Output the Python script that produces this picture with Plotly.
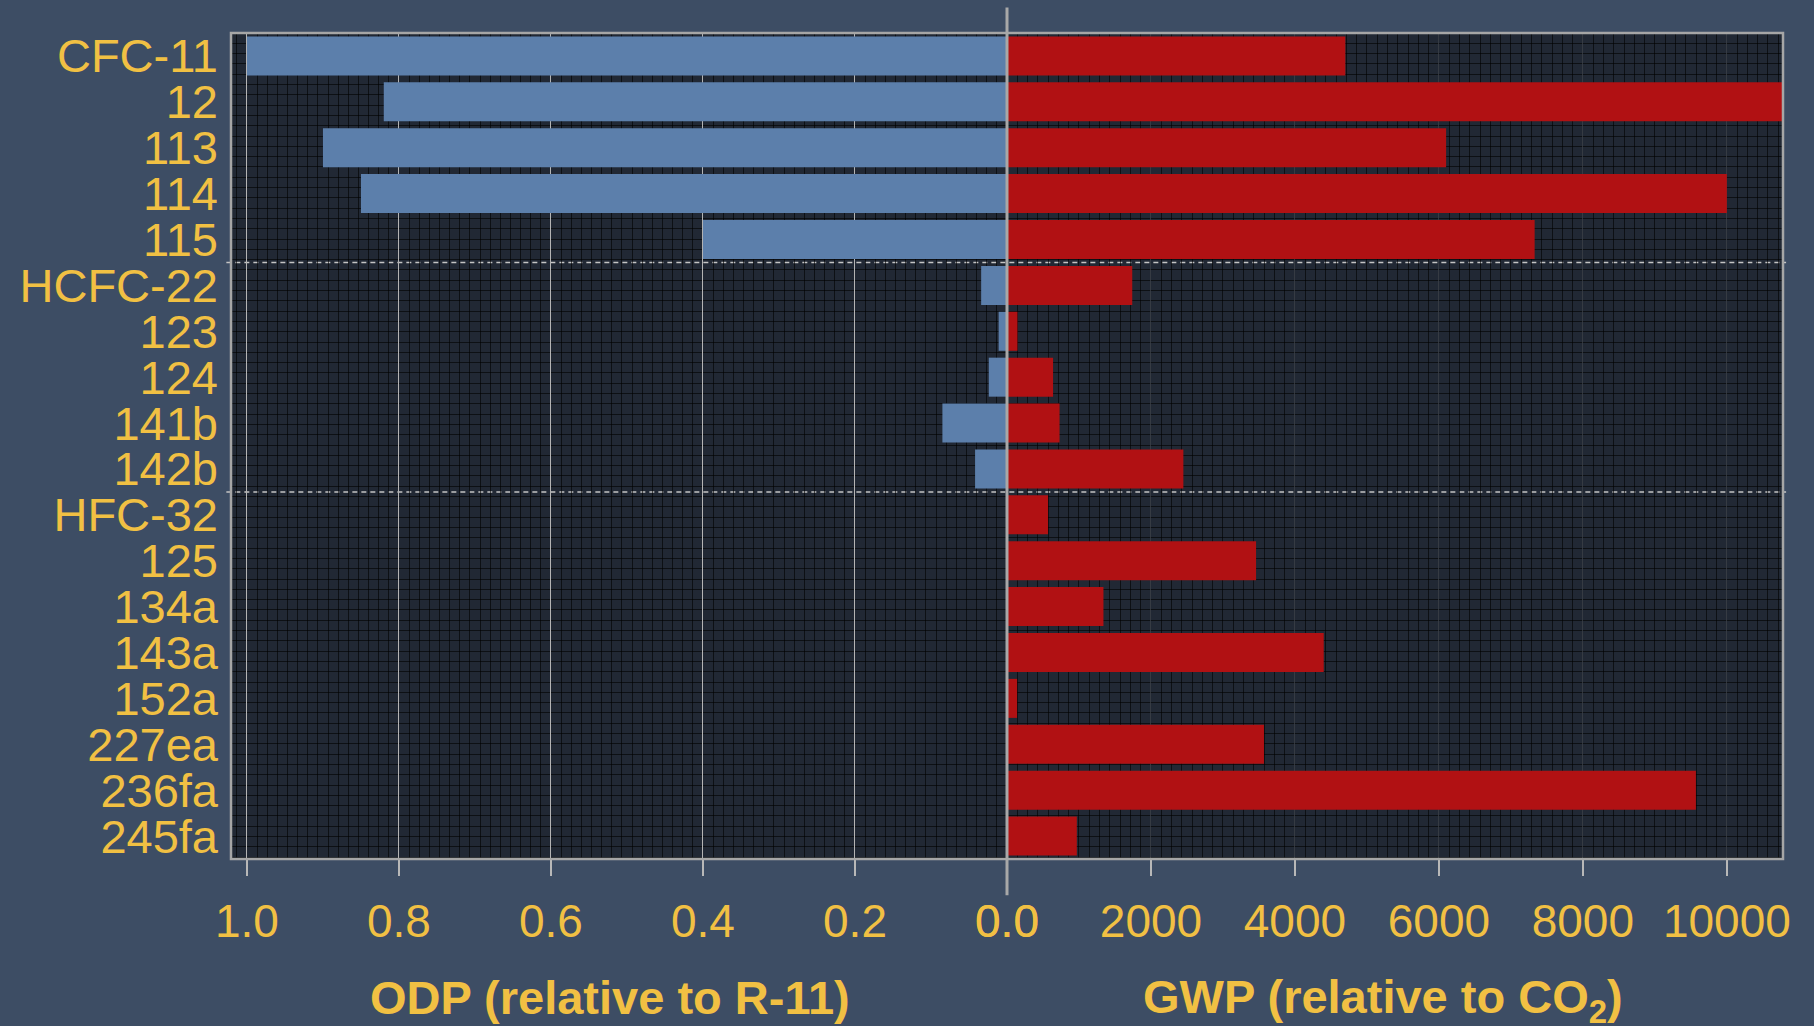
import plotly.graph_objects as go

# ---------------- data ----------------
categories = ["CFC-11", "12", "113", "114", "115",
              "HCFC-22", "123", "124", "141b", "142b",
              "HFC-32", "125", "134a", "143a", "152a", "227ea", "236fa", "245fa"]
groups = ["CFC"] * 5 + ["HCFC"] * 5 + ["HFC"] * 8
odp = [1.0, 0.82, 0.90, 0.85, 0.40,
       0.034, 0.011, 0.024, 0.085, 0.042,
       0, 0, 0, 0, 0, 0, 0, 0]
gwp = [4700, 10900, 6100, 10000, 7330,
       1740, 145, 640, 730, 2450,
       570, 3460, 1340, 4400, 140, 3570, 9570, 970]

odp_ticks = [1.0, 0.8, 0.6, 0.4, 0.2, 0.0]
odp_tick_labels = ["1.0", "0.8", "0.6", "0.4", "0.2", "0.0"]
gwp_ticks = [0, 2000, 4000, 6000, 8000, 10000]
gwp_tick_labels = ["0.0", "2000", "4000", "6000", "8000", "10000"]

ODP_MAX = 1.021
GWP_MAX = 10780

# ---------------- style ----------------
GOLD = "#f1c043"
BLUE = "#5c7fab"
RED = "#b11113"
PAPER = "#3d4d64"
PLOTBG = "#212834"
FRAME = "#a6a6a6"
TICKC = "#b8b8b8"
TEXTURE = "rgba(0,0,0,0.6)"
FONT = "Liberation Sans, Arial, sans-serif"

ypos = list(range(len(categories)))

fig = go.Figure()
fig.add_bar(x=odp, y=ypos, orientation="h", xaxis="x", yaxis="y",
            marker=dict(color=BLUE, line=dict(width=0)), width=0.85,
            showlegend=False, hoverinfo="x+y")
fig.add_bar(x=gwp, y=ypos, orientation="h", xaxis="x2", yaxis="y",
            marker=dict(color=RED, line=dict(width=0)), width=0.85,
            showlegend=False, hoverinfo="x+y")

tickfont = dict(family=FONT, size=46, color=GOLD)

common_x = dict(anchor="y", ticks="outside", ticklen=16, tickwidth=1.5,
                tickcolor=TICKC, zeroline=False, showline=False,
                tickfont=tickfont, automargin=False, tickmode="array",
                ticklabelstandoff=6)

fig.update_layout(
    template="none",
    width=1814, height=1026,
    margin=dict(l=231, r=31, t=33, b=167),
    paper_bgcolor=PAPER,
    plot_bgcolor=PLOTBG,
    barmode="overlay",
    showlegend=False,
    xaxis=dict(domain=[0, 0.5], range=[ODP_MAX, 0],
               tickvals=odp_ticks, ticktext=odp_tick_labels,
               showgrid=True, gridcolor="#b4b4b4", gridwidth=1,
               minor=dict(tick0=0, dtick=0.2 / 15, showgrid=True,
                          gridcolor=TEXTURE, gridwidth=1, ticks=""),
               **common_x),
    xaxis2=dict(domain=[0.5, 1], range=[0, GWP_MAX],
                tickvals=gwp_ticks, ticktext=gwp_tick_labels,
                showgrid=True, gridcolor="rgba(150,160,178,0.30)", gridwidth=1,
                minor=dict(tick0=0, dtick=2000 / 14, showgrid=True,
                           gridcolor=TEXTURE, gridwidth=1, ticks=""),
                **common_x),
    xaxis3=dict(overlaying="x", anchor="y", range=[ODP_MAX, 0],
                tickmode="linear", tick0=0, dtick=0.1,
                ticks="outside", ticklen=8, tickwidth=1.5, tickcolor=TICKC,
                showticklabels=False, showgrid=False, zeroline=False,
                showline=False, automargin=False),
    xaxis4=dict(overlaying="x2", anchor="y", range=[0, GWP_MAX],
                tickmode="linear", tick0=0, dtick=1000,
                ticks="outside", ticklen=8, tickwidth=1.5, tickcolor=TICKC,
                showticklabels=False, showgrid=False, zeroline=False,
                showline=False, automargin=False),
    yaxis=dict(domain=[0, 1], anchor="x", range=[len(categories) - 0.5, -0.5],
               tickmode="array", tickvals=ypos, ticktext=categories,
               ticks="", showgrid=False, zeroline=False, showline=False,
               tickfont=dict(family=FONT, size=47, color=GOLD),
               ticklabelstandoff=12, automargin=False,
               minor=dict(tick0=-0.5, dtick=0.2245, showgrid=True,
                          gridcolor=TEXTURE, gridwidth=1, ticks="")),
)

shapes = []
# group separators (dashed), computed from group changes
for i in range(1, len(groups)):
    if groups[i] != groups[i - 1]:
        yb = i - 0.5
        shapes.append(dict(type="line", xref="paper", yref="y",
                           x0=-0.003, x1=1.002, y0=yb, y1=yb,
                           line=dict(color="#c4c4c4", width=1.5, dash="5px,4px"),
                           layer="below"))
# frame
shapes.append(dict(type="rect", xref="paper", yref="paper", x0=0, x1=1, y0=0, y1=1,
                   line=dict(color=FRAME, width=2.5), fillcolor="rgba(0,0,0,0)",
                   layer="above"))
# central zero line extending beyond the frame
shapes.append(dict(type="line", xref="paper", yref="paper", x0=0.5, x1=0.5,
                   y0=-0.044, y1=1.031, line=dict(color="#a8a8a8", width=3),
                   layer="above"))
fig.update_layout(shapes=shapes)

title_font = dict(family=FONT, size=47, color=GOLD)
fig.add_annotation(text="<b>ODP (relative to R-11)</b>", xref="paper", yref="paper",
                   x=0.244, y=-0.168, xanchor="center", yanchor="middle",
                   showarrow=False, font=title_font)
fig.add_annotation(text="<b>GWP (relative to CO<sub>2</sub>)</b>", xref="paper",
                   yref="paper", x=0.742, y=-0.1705, xanchor="center",
                   yanchor="middle", showarrow=False, font=title_font)

fig.write_html(
    "out.html",
    config={"displayModeBar": False},
    post_script="document.body.style.margin='0';document.body.style.padding='0';"
                "document.body.style.overflow='hidden';"
                "document.body.style.background='" + PAPER + "';",
)
